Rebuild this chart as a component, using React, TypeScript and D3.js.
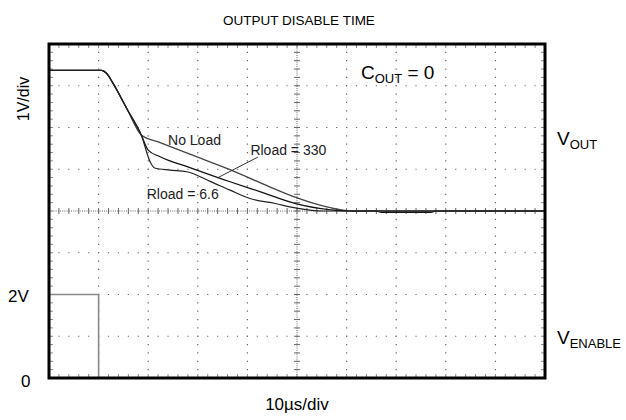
import React from "react";
import * as d3 from "d3";

// ---- data (time in µs, voltage in V) ----
const T_NOLOAD = [0, 10.6, 11.6, 12.8, 15.7, 18.6, 22.4, 28.4, 36.5, 43.1, 49.9, 54.6, 58.7, 61, 100];
const V_NOLOAD = [3.37, 3.37, 3.3, 3.08, 2.45, 1.82, 1.64, 1.36, 0.99, 0.65, 0.32, 0.14, 0.03, 0, 0];

const T_R330 = [0, 10.6, 11.6, 12.8, 15.7, 18.6, 20.0, 22.4, 28.4, 36.5, 43.1, 49.9, 56.7, 60, 66, 67, 77, 78, 100];
const V_R330 = [3.37, 3.37, 3.3, 3.08, 2.45, 1.82, 1.46, 1.3, 1.04, 0.7, 0.44, 0.17, 0.03, 0, 0, -0.035, -0.035, 0, 0];

const T_R66 = [0, 10.6, 11.6, 12.8, 15.7, 18.6, 20.5, 21.3, 24.4, 27.8, 32.5, 36.5, 40.5, 45.6, 49.9, 55.2, 100];
const V_R66 = [3.37, 3.37, 3.3, 3.08, 2.45, 1.82, 1.15, 1.03, 0.98, 0.94, 0.71, 0.5, 0.3, 0.18, 0.07, 0, 0];

const T_ENABLE = [0, 10, 10, 100];
const V_ENABLE = [2, 2, 0, 0];

const X_DIVS = 10; // 10 µs/div
const ENABLE_OFFSET = -4; // enable trace ground at bottom of screen

const TITLE = "OUTPUT DISABLE TIME";
const X_LABEL = "10µs/div";
const Y_LABEL = "1V/div";

const W = 626;
const H = 420;
const FONT = "'Liberation Sans', Arial, Helvetica, sans-serif";

export default function App() {
  const x = d3.scaleLinear().domain([0, 100]).range([49, 545]);
  const y = d3.scaleLinear().domain([-4, 4]).range([378, 44]);

  const line = d3
    .line<[number, number]>()
    .x((d) => x(d[0]))
    .y((d) => y(d[1]))
    .curve(d3.curveMonotoneX);
  const lineLin = d3
    .line<[number, number]>()
    .x((d) => x(d[0]))
    .y((d) => y(d[1]));

  const zip = (t: number[], v: number[], off = 0) => t.map((tt, i) => [tt, v[i] + off] as [number, number]);

  const x0 = x(0), x1 = x(100), y0 = y(-4), y1 = y(4);
  const xc = x(50), yc = y(0);

  const vGrid = d3.range(1, X_DIVS).map((i) => i * 10).filter((t) => t !== 50);
  const hGrid = d3.range(-3, 4).filter((v) => v !== 0);
  const minorX = d3.range(2, 100, 2);
  const minorY = d3.range(-3.8, 4, 0.2).map((v) => Math.round(v * 10) / 10);

  const xStep = (x1 - x0) / 50;
  const yStep = (y0 - y1) / 40;

  return (
    <div style={{ position: "absolute", left: 0, top: 0 }}>
      <svg width={W} height={H} style={{ display: "block", background: "#fff" }} fontFamily={FONT}>
        {/* grid dotted lines */}
        {vGrid.map((t) => (
          <line key={"vg" + t} x1={x(t)} x2={x(t)} y1={y1} y2={y0} stroke="#666" strokeWidth={1.2}
            strokeDasharray={`1.2 ${yStep - 1.2}`} strokeDashoffset={-(yStep - 0.6)} />
        ))}
        {hGrid.map((v) => (
          <line key={"hg" + v} x1={x0} x2={x1} y1={y(v)} y2={y(v)} stroke="#666" strokeWidth={1.2}
            strokeDasharray={`1.2 ${xStep - 1.2}`} strokeDashoffset={-(xStep - 0.6)} />
        ))}
        {/* center axes */}
        <line x1={xc} x2={xc} y1={y1} y2={y0} stroke="#666" strokeWidth={1} strokeDasharray="1 1.2" />
        <line x1={x0} x2={x1} y1={yc} y2={yc} stroke="#666" strokeWidth={1} strokeDasharray="1 1.2" />
        {minorY.map((v) => (
          <line key={"cy" + v} x1={xc - 3} x2={xc + 3} y1={y(v)} y2={y(v)} stroke="#666" strokeWidth={1} />
        ))}
        {minorX.map((t) => (
          <line key={"cx" + t} x1={x(t)} x2={x(t)} y1={yc - 3} y2={yc + 3} stroke="#666" strokeWidth={1} />
        ))}
        {/* frame minor ticks */}
        {minorX.map((t) => (
          <g key={"fx" + t}>
            <line x1={x(t)} x2={x(t)} y1={y1} y2={y1 + 4} stroke="#888" strokeWidth={1} />
            <line x1={x(t)} x2={x(t)} y1={y0} y2={y0 - 4} stroke="#888" strokeWidth={1} />
          </g>
        ))}
        {minorY.map((v) => (
          <g key={"fy" + v}>
            <line x1={x0} x2={x0 + 4} y1={y(v)} y2={y(v)} stroke="#888" strokeWidth={1} />
            <line x1={x1} x2={x1 - 4} y1={y(v)} y2={y(v)} stroke="#888" strokeWidth={1} />
          </g>
        ))}

        {/* enable trace */}
        <path d={lineLin(zip(T_ENABLE, V_ENABLE, ENABLE_OFFSET)) || ""} fill="none" stroke="#888" strokeWidth={1.6} />

        {/* output traces */}
        <path d={line(zip(T_NOLOAD, V_NOLOAD)) || ""} fill="none" stroke="#444" strokeWidth={1.3} />
        <path d={line(zip(T_R330, V_R330)) || ""} fill="none" stroke="#111" strokeWidth={1.2} />
        <path d={line(zip(T_R66, V_R66)) || ""} fill="none" stroke="#222" strokeWidth={1.2} />

        {/* leader */}
        <line x1={x(42.1)} y1={y(1.29)} x2={x(33.9)} y2={y(0.79)} stroke="#333" strokeWidth={1} />

        {/* frame */}
        <rect x={x0} y={y1} width={x1 - x0} height={y0 - y1} fill="none" stroke="#000" strokeWidth={3} />

        {/* curve labels */}
        <text x={x(24)} y={y(1.58)} fontSize={14} fill="#222">No Load</text>
        <text x={x(40.6)} y={y(1.35)} fontSize={14} fill="#222">Rload = 330</text>
        <text x={x(19.7)} y={y(0.29)} fontSize={14} fill="#222">Rload = 6.6</text>

        {/* titles */}
        <text x={299} y={25} fontSize={13.5} textAnchor="middle" fill="#000">{TITLE}</text>
        <text x={297} y={410} fontSize={17} textAnchor="middle" fill="#000">{X_LABEL}</text>
        <text transform="translate(29,99) rotate(-90)" fontSize={16} textAnchor="middle" fill="#000">{Y_LABEL}</text>

        <text x={361} y={79} fontSize={19} fill="#000">
          C<tspan fontSize={13} dy={4}>OUT</tspan><tspan dy={-4}> = 0</tspan>
        </text>
        <text x={557} y={145} fontSize={19} fill="#000">
          V<tspan fontSize={13} dy={4}>OUT</tspan>
        </text>
        <text x={557} y={344} fontSize={19} fill="#000">
          V<tspan fontSize={13} dy={4}>ENABLE</tspan>
        </text>
        <text x={8} y={302} fontSize={17} fill="#000">2V</text>
        <text x={21} y={387} fontSize={17} fill="#000">0</text>
      </svg>
    </div>
  );
}
